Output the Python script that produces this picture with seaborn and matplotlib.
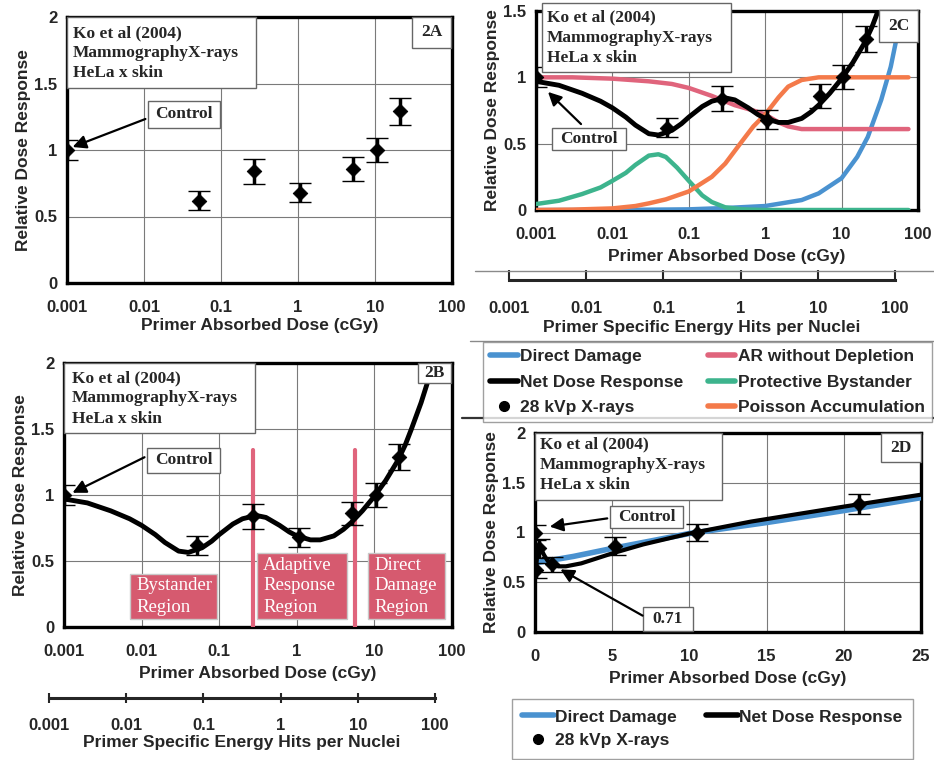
import numpy as np
import matplotlib
matplotlib.use("Agg")
import matplotlib.pyplot as plt
import seaborn as sns
from matplotlib.transforms import Affine2D
from matplotlib.patches import Rectangle, FancyArrowPatch
from matplotlib.lines import Line2D

# ---- data ----
# Ko et al (2004) measured points
dose_pts = [0.001, 0.052, 0.27, 1.07, 5.2, 10.5, 21]
resp_pts = [1.0, 0.62, 0.84, 0.68, 0.86, 1.0, 1.29]
err_pts = [0.075, 0.073, 0.094, 0.073, 0.09, 0.09, 0.10]

# net dose response (black curve)
net_dose = [0.001, 0.002, 0.004, 0.007, 0.01, 0.015, 0.02, 0.03, 0.04, 0.06, 0.08,
            0.1, 0.15, 0.2, 0.3, 0.4, 0.6, 0.8, 1.0, 1.5, 2, 3, 4, 5, 7, 10, 14,
            20, 25, 30, 40, 50, 60]
net_resp = [0.97, 0.94, 0.88, 0.82, 0.77, 0.70, 0.64, 0.575, 0.565, 0.60, 0.65,
            0.70, 0.78, 0.82, 0.845, 0.83, 0.77, 0.72, 0.69, 0.66, 0.66, 0.69, 0.74,
            0.79, 0.88, 0.99, 1.11, 1.26, 1.38, 1.50, 1.70, 1.88, 2.05]

# components (panel 2C)
ar_dose = [0.001, 0.003, 0.01, 0.03, 0.06, 0.1, 0.2, 0.4, 0.7, 1.0, 1.5, 2, 3, 5, 10, 30, 75]
ar_resp = [1.0, 1.0, 0.99, 0.97, 0.95, 0.92, 0.86, 0.79, 0.75, 0.72, 0.66, 0.63, 0.61,
           0.61, 0.61, 0.61, 0.61]
bys_dose = [0.001, 0.002, 0.004, 0.007, 0.01, 0.015, 0.02, 0.03, 0.04, 0.05, 0.07,
            0.1, 0.15, 0.2, 0.3, 0.5, 1.0, 75]
bys_resp = [0.045, 0.07, 0.12, 0.17, 0.22, 0.28, 0.34, 0.41, 0.42, 0.40, 0.32,
            0.22, 0.11, 0.06, 0.02, 0.005, 0.0, 0.0]
poi_dose = [0.001, 0.003, 0.01, 0.02, 0.03, 0.05, 0.1, 0.2, 0.3, 0.5, 0.7, 1.0, 1.5,
            2, 3, 5, 75]
poi_resp = [0.0, 0.003, 0.012, 0.03, 0.05, 0.08, 0.14, 0.25, 0.35, 0.52, 0.63, 0.72,
            0.85, 0.93, 0.98, 1.0, 1.0]
dd_dose = [0.001, 0.01, 0.1, 0.3, 1, 3, 5, 10, 16, 22, 33, 44, 54, 63]
dd_resp = [0.0, 0.0, 0.005, 0.015, 0.03, 0.075, 0.125, 0.24, 0.40, 0.55, 0.83, 1.08,
           1.33, 1.5]

# direct damage on the linear plot (panel 2D)
ddlin_dose = [0.2, 1, 2.5, 5, 10, 15, 20, 25]
ddlin_resp = [0.70, 0.72, 0.76, 0.84, 0.99, 1.10, 1.22, 1.35]

regions = [0.275, 5.6]

decades = [0.001, 0.01, 0.1, 1, 10, 100]
decade_labels = ["0.001", "0.01", "0.1", "1", "10", "100"]

C_BLUE = "#4a92d0"
C_PINK = "#e0647c"
C_GREEN = "#3db48d"
C_ORANGE = "#f47a4a"
C_REGION = "#d65a6f"

sns.set_style("white")
plt.rcParams['font.family'] = ['Liberation Sans', 'DejaVu Sans']
plt.rcParams['font.weight'] = 'bold'
SERIF = ['Liberation Serif', 'DejaVu Serif']

W, H = 934, 760
fig = plt.figure(figsize=(W / 100, H / 100), dpi=100)
PX = Affine2D().scale(1 / W, -1 / H).translate(0, 1) + fig.transFigure


def add_ax(l, t, r, b):
    return fig.add_axes([l / W, 1 - b / H, (r - l) / W, (b - t) / H])


def style_ax(ax, ymax, xlab_pad=2):
    ax.set_ylim(0, ymax)
    yt = np.arange(0, ymax + 0.01, 0.5)
    ax.set_yticks(yt)
    ax.set_yticklabels(["%g" % v for v in yt])
    ax.minorticks_off()
    ax.grid(True, color="#7a7a7a", lw=0.8)
    for s in ax.spines.values():
        s.set_linewidth(2.4)
        s.set_color("black")
    ax.tick_params(axis="y", length=0, pad=7, labelsize=12)
    ax.tick_params(axis="x", length=0, pad=12.5, labelsize=12)
    ax.set_xlabel("Primer Absorbed Dose (cGy)", fontsize=12.5, fontweight="bold",
                  labelpad=xlab_pad)
    ax.set_ylabel("Relative Dose Response", fontsize=12.5, fontweight="bold", labelpad=2)


def log_ax(ax, ymax, xlab_pad=2):
    ax.set_xscale("log")
    ax.set_xlim(0.001, 100)
    ax.set_xticks(decades)
    ax.set_xticklabels(decade_labels)
    style_ax(ax, ymax, xlab_pad)


def draw_points(ax):
    ax.errorbar(dose_pts, resp_pts, yerr=err_pts, fmt="none", ecolor="black",
                elinewidth=2.5, capsize=8, capthick=1.0, zorder=4)
    sns.scatterplot(x=dose_pts, y=resp_pts, ax=ax, marker="D", s=55, color="black",
                    edgecolor="black", zorder=5, legend=False)


def box(x0, y0, x1, y1, lw=1.0):
    fig.add_artist(Rectangle((x0, y0), x1 - x0, y1 - y0, transform=PX, facecolor="white",
                             edgecolor="#666666", lw=lw, zorder=6))


def ko_box(x0, y0, x1, y1, offs, tx):
    box(x0, y0, x1, y1)
    for txt, o in zip(["Ko et al (2004)", "MammographyX-rays", "HeLa x skin"], offs):
        fig.text(tx, y0 + o, txt, transform=PX, family=SERIF, fontweight="bold",
                 fontsize=12.5, va="center", ha="left", zorder=7)


def tag_box(x0, y0, x1, y1, txt):
    box(x0, y0, x1, y1)
    fig.text((x0 + x1) / 2, (y0 + y1) / 2, txt, transform=PX, family=SERIF,
             fontweight="bold", fontsize=12.5, ha="center", va="center", zorder=7)


def arrow(tail, head):
    fig.add_artist(FancyArrowPatch(tail, head, transform=PX, arrowstyle="-|>",
                                   mutation_scale=20, lw=1.6, color="black", zorder=8))


def hits_axis(l, t, r, b, direction, pad, lpad):
    ax = add_ax(l, t, r, b)
    ax.set_xscale("log")
    ax.set_xlim(0.001, 100)
    ax.set_xticks(decades)
    ax.set_xticklabels(decade_labels)
    ax.minorticks_off()
    ax.set_yticks([])
    ax.patch.set_alpha(0)
    for k in ["top", "left", "right"]:
        ax.spines[k].set_visible(False)
    ax.spines["bottom"].set_linewidth(2.2)
    ax.tick_params(axis="x", bottom=True, direction=direction, length=7, width=1.5,
                   pad=pad, labelsize=12)
    ax.set_xlabel("Primer Specific Energy Hits per Nuclei", fontsize=12.5,
                  fontweight="bold", labelpad=lpad)
    return ax


# ---- 2A ----
axA = add_ax(67, 17, 452, 283)
log_ax(axA, 2)
draw_points(axA)
ko_box(67, 17, 256, 88, [16, 36, 56], 73)
tag_box(412, 17, 451, 48, "2A")
tag_box(148, 101, 220, 128, "Control")
arrow((148, 118), (70, 148))

# ---- 2B ----
axB = add_ax(64, 363, 452, 627)
log_ax(axB, 2, xlab_pad=5)
draw_points(axB)
sns.lineplot(x=net_dose, y=net_resp, ax=axB, color="black", lw=3.5, sort=False,
             estimator=None, zorder=6)
for r in regions:
    axB.plot([r, r], [0, 1.34], color=C_PINK, lw=3, zorder=3)
ko_box(64, 363, 255, 433, [15, 35, 56], 72)
tag_box(418, 363, 451, 383, "2B")
tag_box(147, 448, 220, 473, "Control")
arrow((147, 456), (70, 494))
for (x0, y0, x1, y1), lines in zip(
        [(130, 574, 217, 619), (257, 553, 347, 619), (368, 553, 445, 619)],
        [["Bystander", "Region"], ["Adaptive", "Response", "Region"],
         ["Direct", "Damage", "Region"]]):
    fig.add_artist(Rectangle((x0, y0), x1 - x0, y1 - y0, transform=PX, facecolor=C_REGION,
                             edgecolor="#c9c9c9", lw=1, zorder=6))
    n = len(lines)
    for i, t in enumerate(lines):
        fig.text(x0 + 6, y1 - 12 - (n - 1 - i) * 21, t, transform=PX, family=SERIF,
                 fontweight="normal", fontsize=13.5, color="white", ha="left",
                 va="center", zorder=7)

hits_axis(49, 690, 435, 698, "inout", 11, 1)

# ---- 2C ----
axC = add_ax(536, 11, 918, 210)
log_ax(axC, 1.5, xlab_pad=5)
for xs, ys, c in [(dd_dose, dd_resp, C_BLUE), (ar_dose, ar_resp, C_PINK),
                  (bys_dose, bys_resp, C_GREEN), (poi_dose, poi_resp, C_ORANGE)]:
    sns.lineplot(x=xs, y=ys, ax=axC, color=c, lw=3.2, sort=False, estimator=None, zorder=3)
draw_points(axC)
sns.lineplot(x=net_dose, y=net_resp, ax=axC, color="black", lw=3.5, sort=False,
             estimator=None, zorder=6)
ko_box(542, 3, 731, 72, [14, 35, 55], 547)
tag_box(879, 10, 918, 42, "2C")
tag_box(552, 128, 626, 150, "Control")
arrow((583, 126), (546, 90))

hits_axis(509, 270, 895, 280, "in", 15, 3)

# separator lines
for (x0, x1, y, c, lw) in [(475, 934, 271, "#8a8a8a", 1.0), (470, 934, 341, "#8a8a8a", 1.0),
                           (462, 934, 418, "#333333", 1.6)]:
    fig.add_artist(Line2D([x0, x1], [y, y], transform=PX, color=c, lw=lw))

# legend for 2C
hC = [Line2D([], [], color=C_BLUE, lw=4), Line2D([], [], color="black", lw=4),
      Line2D([], [], color="black", marker="o", ls="none", ms=7),
      Line2D([], [], color=C_PINK, lw=4), Line2D([], [], color=C_GREEN, lw=4),
      Line2D([], [], color=C_ORANGE, lw=4)]
lC = ["Direct Damage", "Net Dose Response", "28 kVp X-rays", "AR without Depletion",
      "Protective Bystander", "Poisson Accumulation"]
fig.legend(hC, lC, loc="upper left", mode="expand",
           bbox_to_anchor=(483 / W, 1 - 417 / H, 449 / W, 75 / H), ncol=2,
           fontsize=12.5, frameon=True, fancybox=False, edgecolor="#888888",
           handlelength=1.6, handletextpad=0.15, columnspacing=1.0, labelspacing=0.6,
           borderpad=0.4, borderaxespad=0)

# ---- 2D ----
axD = add_ax(535, 433, 921, 632)
axD.set_xlim(0, 25)
axD.set_xticks([0, 5, 10, 15, 20, 25])
axD.set_xticklabels(["0", "5", "10", "15", "20", "25"])
style_ax(axD, 2, xlab_pad=5)
sns.lineplot(x=ddlin_dose, y=ddlin_resp, ax=axD, color=C_BLUE, lw=4, sort=False,
             estimator=None, zorder=3)
draw_points(axD)
sns.lineplot(x=net_dose, y=net_resp, ax=axD, color="black", lw=3, sort=False,
             estimator=None, zorder=6)
ko_box(535, 433, 722, 500, [11, 32, 52], 540)
tag_box(881, 433, 921, 462, "2D")
tag_box(610, 506, 683, 528, "Control")
arrow((610, 518), (547, 527))
tag_box(643, 607, 693, 631, "0.71")
arrow((645, 617), (558, 568))

hD = [Line2D([], [], color=C_BLUE, lw=4),
      Line2D([], [], color="black", marker="o", ls="none", ms=7),
      Line2D([], [], color="black", lw=4)]
lD = ["Direct Damage", "28 kVp X-rays", "Net Dose Response"]
fig.legend(hD, lD, loc="upper left", mode="expand",
           bbox_to_anchor=(512 / W, 1 - 758 / H, 401 / W, 59 / H), ncol=2,
           fontsize=12.5, frameon=True, fancybox=False, edgecolor="#888888",
           handlelength=1.8, handletextpad=0.1, columnspacing=1.0, labelspacing=0.5,
           borderpad=0.6, borderaxespad=0)

fig.savefig("out.png", dpi=100)
